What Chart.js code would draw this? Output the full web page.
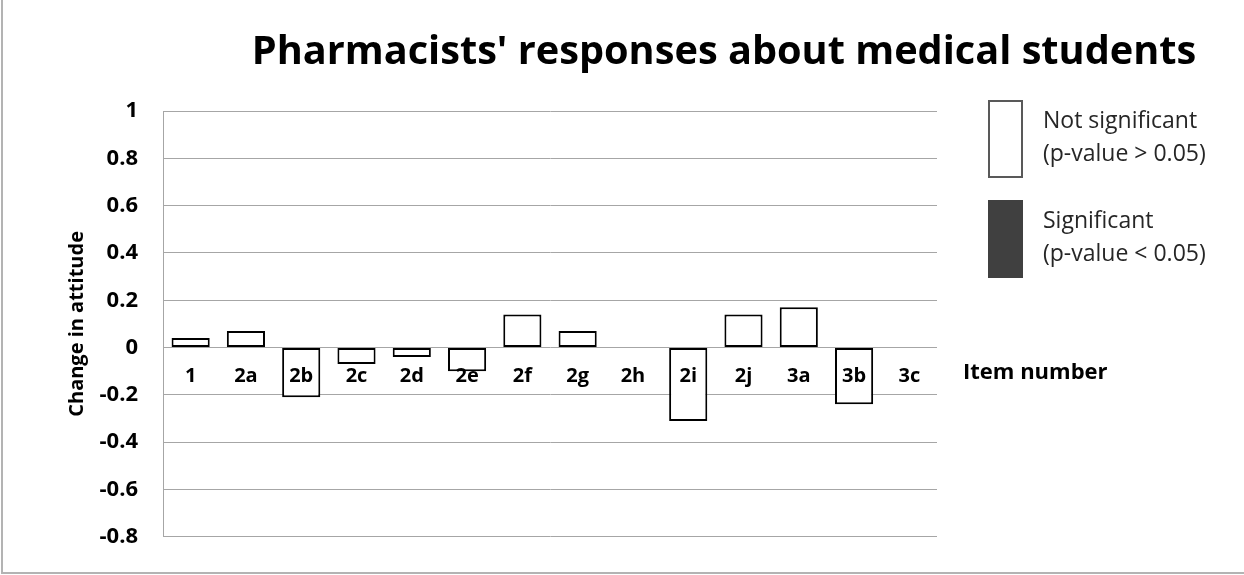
<!DOCTYPE html>
<html>
<head>
<meta charset="utf-8">
<style>
  html, body { margin: 0; padding: 0; background: #ffffff; }
  #wrap { width: 1244px; height: 575px; position: relative; }
</style>
<script src="https://cdn.jsdelivr.net/npm/chart.js@4.4.1/dist/chart.umd.min.js"></script>
</head>
<body>
<div id="wrap"><canvas id="c" width="1244" height="575"></canvas></div>
<script>
const chartTitle = "Pharmacists' responses about medical students";
const yAxisTitle = "Change in attitude";
const xAxisTitle = "Item number";
const categories = ["1","2a","2b","2c","2d","2e","2f","2g","2h","2i","2j","3a","3b","3c"];
const changeValues = [0.04, 0.07, -0.21, -0.07, -0.04, -0.10, 0.14, 0.07, 0, -0.31, 0.14, 0.17, -0.24, 0];
const legendItems = [
  { lines: ["Not significant", "(p-value > 0.05)"], fill: "#ffffff", stroke: "#595959" },
  { lines: ["Significant", "(p-value < 0.05)"], fill: "#404040", stroke: "#404040" }
];
const yMin = -0.8, yMax = 1, yStep = 0.2;

const FONT = "'Open Sans', sans-serif";

const decorPlugin = {
  id: 'decor',
  beforeDraw(chart) {
    const ctx = chart.ctx;
    ctx.save();
    ctx.fillStyle = '#ffffff';
    ctx.fillRect(0, 0, chart.width, chart.height);
    ctx.strokeStyle = '#b3b3b3';
    ctx.lineWidth = 2;
    ctx.beginPath();
    ctx.moveTo(2, 0);
    ctx.lineTo(2, 573);
    ctx.lineTo(chart.width, 573);
    ctx.stroke();
    ctx.restore();
  },
  afterDraw(chart) {
    const ctx = chart.ctx;
    ctx.save();
    ctx.fillStyle = '#000000';
    ctx.font = "bold 39.7px " + FONT;
    ctx.textAlign = 'center';
    ctx.textBaseline = 'middle';
    ctx.fillText(chartTitle, 724, 53);
    const y0 = chart.scales.y.getPixelForValue(0);
    ctx.font = "bold 22px " + FONT;
    ctx.textAlign = 'left';
    ctx.fillText(xAxisTitle, 963, y0 + 25);
    const boxX = 989, boxW = 33;
    const boxTops = [101, 201];
    const boxH = 76;
    legendItems.forEach((it, i) => {
      const top = boxTops[i];
      ctx.fillStyle = it.fill;
      ctx.fillRect(boxX, top, boxW, boxH);
      ctx.strokeStyle = it.stroke;
      ctx.lineWidth = 2;
      ctx.strokeRect(boxX, top, boxW, boxH);
      ctx.fillStyle = '#262626';
      ctx.font = "23px " + FONT;
      ctx.textBaseline = 'middle';
      ctx.fillText(it.lines[0], 1043, top + 20);
      ctx.fillText(it.lines[1], 1043, top + 53);
    });
    ctx.restore();
  }
};

new Chart(document.getElementById('c'), {
  type: 'bar',
  data: {
    labels: categories,
    datasets: [{
      label: 'Change in attitude',
      data: changeValues,
      backgroundColor: '#ffffff',
      borderColor: '#000000',
      borderWidth: 2,
      borderSkipped: false,
      barPercentage: 0.69,
      categoryPercentage: 1.0
    }]
  },
  options: {
    responsive: false,
    animation: false,
    devicePixelRatio: 1,
    layout: { padding: { left: 0, top: 111, right: 307, bottom: 22 } },
    plugins: {
      legend: { display: false },
      title: { display: false },
      tooltip: { enabled: false }
    },
    scales: {
      x: {
        position: { y: 0 },
        afterFit(scale) { scale.height = 0; },
        grid: { display: false, drawTicks: false },
        border: { display: false },
        ticks: {
          z: 1,
          color: '#000000',
          font: { family: FONT, size: 20, weight: 'bold' },
          padding: 17,
          maxRotation: 0,
          autoSkip: false
        }
      },
      y: {
        min: yMin,
        max: yMax,
        afterFit(scale) { scale.width = 163; },
        grid: { color: '#a6a6a6', lineWidth: 1, drawTicks: false },
        border: { display: true, color: '#a6a6a6', width: 1 },
        ticks: {
          stepSize: yStep,
          color: '#000000',
          padding: 25,
          font: { family: FONT, size: 22, weight: 'bold' },
          callback: (v) => String(Math.round(v * 10) / 10)
        },
        title: {
          display: true,
          text: yAxisTitle,
          color: '#000000',
          font: { family: FONT, size: 20, weight: 'bold' },
          padding: { top: 65, bottom: 0 }
        }
      }
    }
  },
  plugins: [decorPlugin]
});
</script>
</body>
</html>
